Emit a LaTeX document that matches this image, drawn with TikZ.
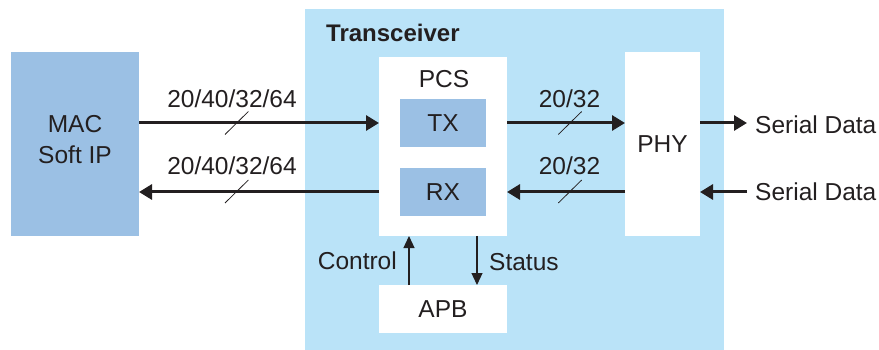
\documentclass[tikz,border=0pt]{standalone}
\usepackage{fontspec}
\setmainfont{Liberation Sans}
\usetikzlibrary{arrows.meta}
\definecolor{macblue}{RGB}{155,192,228}
\definecolor{trxbg}{RGB}{186,227,248}
\definecolor{ink}{RGB}{35,31,32}
\tikzset{
  box/.style={fill=#1, draw=none, inner sep=0pt, outer sep=0pt, text=ink},
  big/.style={line width=3pt, draw=ink, -{Triangle[length=13pt,width=15pt]}},
  small/.style={line width=1.2pt, draw=ink, -{Triangle[length=12pt,width=11pt]}},
  slash/.style={line width=0.8pt, draw=ink},
  lbl/.style={inner sep=0pt, text=ink},
}
\begin{document}
\begin{tikzpicture}[x=1pt,y=-1pt,font=\fontsize{24.5}{31}\selectfont]
\useasboundingbox (0,0) rectangle (879,350);
% boxes
\node[box=trxbg, minimum width=419pt, minimum height=341pt] (trx) at (514.5,179.5) {};
\node[lbl, font=\fontsize{24}{29}\selectfont\bfseries, anchor=base west] (trxl) at (326,42) {Transceiver};
\node[box=macblue, minimum width=128pt, minimum height=184pt] (mac) at (75,144) {};
\node[lbl, align=center] (macl) at (75,140) {MAC\\Soft IP};
\node[box=white, minimum width=128pt, minimum height=179pt] (pcs) at (443,146.5) {};
\node[lbl] (pcsl) at (444,79) {PCS};
\node[box=macblue, minimum width=86pt, minimum height=48pt] (tx) at (443,123) {TX};
\node[box=macblue, minimum width=86pt, minimum height=48pt] (rx) at (443,192) {RX};
\node[box=white, minimum width=128pt, minimum height=48pt] (apb) at (443,309) {APB};
\node[box=white, minimum width=75pt, minimum height=184pt] (phy) at (662.5,144) {PHY};
% data arrows
\draw[big] (mac.east |- tx) -- (pcs.west |- tx);
\draw[big] (pcs.west |- rx) -- (mac.east |- rx);
\draw[big] (pcs.east |- tx) -- (phy.west |- tx);
\draw[big] (phy.west |- rx) -- (pcs.east |- rx);
\coordinate (so) at (747,123);
\coordinate (si) at (747,192);
\draw[big] (phy.east |- tx) -- (so);
\draw[big] (si) -- (phy.east |- rx);
\node[lbl, anchor=west] (sol) at (755,125) {Serial Data};
\node[lbl, anchor=west] (sil) at (755,192) {Serial Data};
% bus width labels and slashes
\node[lbl] (w1) at (232,99) {20/40/32/64};
\node[lbl] (w2) at (232,166) {20/40/32/64};
\node[lbl] (w3) at (569.5,99) {20/32};
\node[lbl] (w4) at (569.5,166) {20/32};
\draw[slash] (236.7,123) +(-11.7,11.5) -- +(11.7,-11.5);
\draw[slash] (236.7,191.5) +(-11.7,11.5) -- +(11.7,-11.5);
\draw[slash] (570,123) +(-11.7,11.5) -- +(11.7,-11.5);
\draw[slash] (570,191.5) +(-11.7,11.5) -- +(11.7,-11.5);
% control / status
\coordinate (ctl) at (409,0);
\coordinate (sts) at (477,0);
\draw[small] (apb.north -| ctl) -- (pcs.south -| ctl);
\draw[small] (pcs.south -| sts) -- (apb.north -| sts);
\node[lbl, anchor=east] (ctll) at (397,261) {Control};
\node[lbl, anchor=west] (stsl) at (489,262) {Status};
\end{tikzpicture}
\end{document}
